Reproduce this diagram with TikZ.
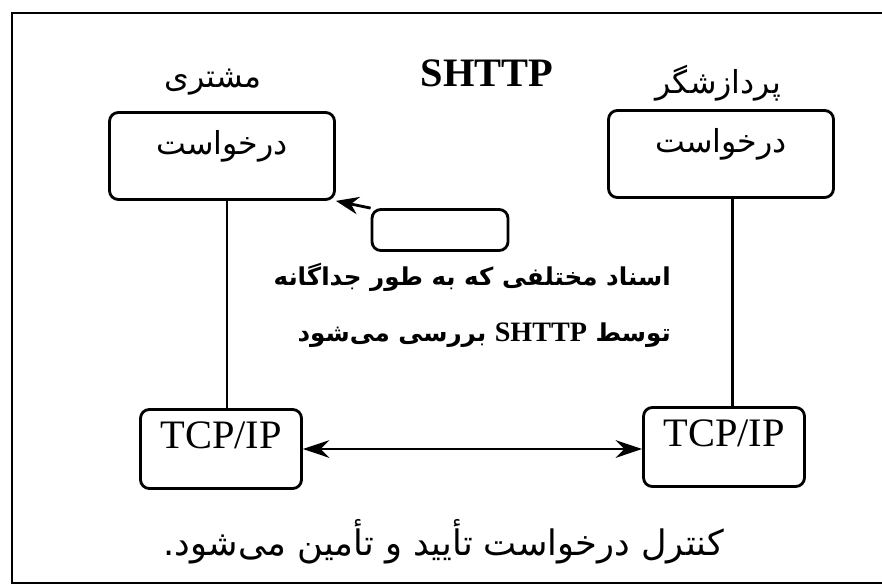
\documentclass[tikz,border=0pt]{standalone}
\usepackage{fontspec}
\setmainfont{Liberation Serif}
\newfontfamily\farsi[Script=Arabic]{DejaVu Sans}
\TeXXeTstate=1
\usetikzlibrary{arrows.meta}

\begin{document}
\begin{tikzpicture}[x=0.02cm, y=-0.02cm, >={Stealth[length=15pt, width=10pt]}, line width=1.6pt,
    box/.style={draw, rounded corners=5pt, inner sep=0pt},
    fa/.style={font=\farsi\fontsize{18}{20}\selectfont},
    reqbox/.style={box, fa, minimum width=4.5cm, text height=0.84cm, text depth=0.9cm},
    tcpbox/.style={box, font=\fontsize{23}{25}\selectfont, minimum width=3.22cm, text height=0.77cm, text depth=0.81cm},
    docs/.style={font=\farsi\bfseries\fontsize{14}{16}\selectfont, anchor=east}]
  \useasboundingbox (0,0) rectangle (882,585);

  % Rahmen
  \draw[line width=1.5pt] (882,13) -- (12,13) -- (12,583) -- (882,583);

  % Titel
  \node[fa] (client) at (213,82) {\beginR مشتری\endR};
  \node[font=\bfseries\fontsize{23}{25}\selectfont] (shttp) at (487,73) {SHTTP};
  \node[fa] (server) at (718,83) {\beginR پردازشگر\endR};

  % Anfragen
  \node[reqbox] (clientreq) at (222,156) {\beginR درخواست\endR};
  \node[reqbox] (serverreq) at (721,154) {\beginR درخواست\endR};

  % Dokumente
  \node[box, minimum width=2.72cm, minimum height=0.82cm] (docbox) at (440,230) {};
  \draw[->, >={Stealth[length=13pt, width=10pt]}] (docbox.north west) -- (clientreq.south east);
  \node[docs] (docs1) at (678,277) {\beginR اسناد مختلفی که به طور جداگانه\endR};
  \node[docs] (docs2) at (678,335) {\beginR توسط {\rmfamily\bfseries\fontsize{16}{18}\selectfont\beginL SHTTP\endL} بررسی می‌شود\endR};

  % TCP/IP
  \node[tcpbox] (clienttcp) at (221,449) {TCP/IP};
  \node[tcpbox] (servertcp) at (724,447) {TCP/IP};

  % Linien
  \draw ([xshift=0.1cm]clientreq.south) -- ([xshift=0.1cm]clientreq.south |- clienttcp.north);
  \draw ([xshift=0.23cm]serverreq.south) -- ([xshift=0.23cm]serverreq.south |- servertcp.north);
  \draw[<->] (clienttcp.east) -- (clienttcp.east -| servertcp.west);

  % Hinweis
  \node[fa, font=\farsi\fontsize{20}{22}\selectfont] (note) at (444,542) {\beginR کنترل درخواست تأیید و تأمین می‌شود.\endR};
\end{tikzpicture}
\end{document}
